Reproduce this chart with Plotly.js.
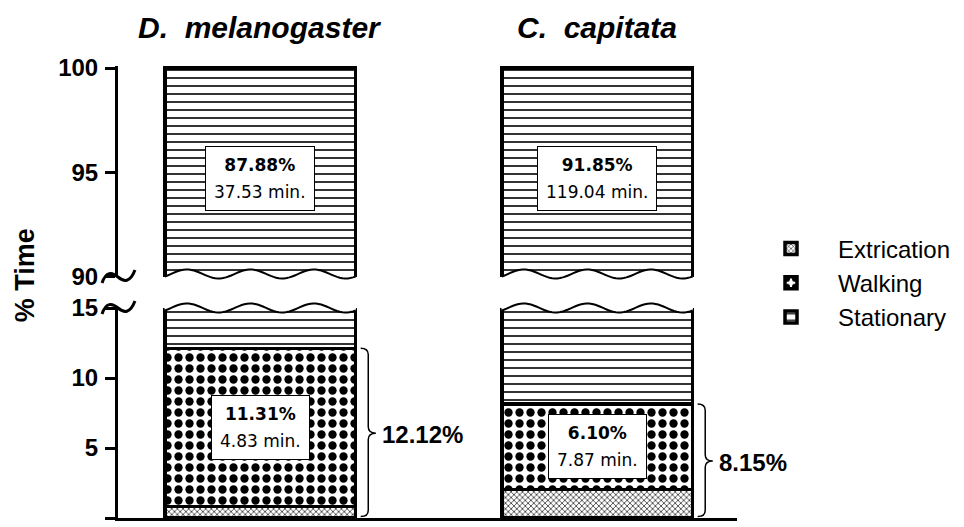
<!DOCTYPE html>
<html>
<head>
<meta charset="utf-8">
<script src="https://cdn.plot.ly/plotly-3.0.1.min.js"></script>
<style>html,body{margin:0;padding:0;background:#fff;}#chart{width:964px;height:527px;}</style>
</head>
<body>
<div id="chart"></div>
<script>
// ---- data ----
const species = ['D.\u00a0 melanogaster', 'C.\u00a0 capitata'];
const xpos = [0, 1];
const extrication = [0.81, 2.05];
const walking = [11.31, 6.10];
const stationary = [87.88, 91.85];
const walkMin = [4.83, 7.87];
const statMin = [37.53, 119.04];
const lowTicks = [0, 5, 10, 15];
const highTicks = [90, 95, 100];
const seriesNames = ['Extrication', 'Walking', 'Stationary'];

// ---- layout constants ----
const W = 964, H = 527;
const M = {l: 118, r: 226, t: 66, b: 9};
const plotH = H - M.t - M.b;
const lowDomain = [0, 0.4646];
const highDomain = [0.5332, 1];
const barW = 0.566;
const xRange = [-0.4222, 1.4148];

const patterns = [
  {shape: 'x', size: 4, solidity: 0.3, fgcolor: 'black', bgcolor: 'white', fillmode: 'replace'},
  {shape: '.', size: 11, solidity: 0.45, fgcolor: 'black', bgcolor: 'white', fillmode: 'replace'},
  {shape: '-', size: 8, solidity: 0.2, fgcolor: 'black', bgcolor: 'white', fillmode: 'replace'}
];
const seriesVals = [extrication, walking, stationary];

const traces = [];
['y', 'y2'].forEach((ax, k) => {
  seriesVals.forEach((vals, i) => {
    traces.push({
      type: 'bar', x: xpos, y: vals, name: seriesNames[i],
      width: barW, xaxis: 'x', yaxis: ax,
      showlegend: k === 0, legendgroup: seriesNames[i],
      marker: {color: 'white', pattern: patterns[i], line: {color: 'black', width: 3.5}},
      hoverinfo: 'skip'
    });
  });
});

// helpers: pixel -> paper
const px2x = px => (px - M.l) / (W - M.l - M.r);
const py2y = py => (H - M.b - py) / plotH;

const shapes = [];
const annotations = [];

// wavy break edges on bars
function wave(xc, yc, A, phase) {
  const pts = [];
  const n = 72;
  for (let j = 0; j <= n; j++) {
    const t = j / n;
    pts.push([xc - barW / 2 + t * barW, yc + A * Math.sin(2 * Math.PI * 3 * t + phase)]);
  }
  return pts;
}
const A = 4.5 / plotH;
xpos.forEach(xc => {
  // lower panel top
  const ycL = lowDomain[1];
  const wl = wave(xc, ycL, A, -0.6);
  let d = 'M' + wl.map(p => p[0] + ',' + p[1]).join('L');
  shapes.push({type: 'path', xref: 'x', yref: 'paper',
    path: d + 'L' + (xc + barW / 2 + 0.01) + ',' + (ycL + 0.04) + 'L' + (xc - barW / 2 - 0.01) + ',' + (ycL + 0.04) + 'Z',
    fillcolor: 'white', line: {width: 0}});
  shapes.push({type: 'path', xref: 'x', yref: 'paper', path: d,
    fillcolor: 'rgba(0,0,0,0)', line: {color: 'black', width: 2}});
  // upper panel bottom
  const ycU = highDomain[0] + 3 / plotH;
  const wu = wave(xc, ycU, A, -0.6);
  d = 'M' + wu.map(p => p[0] + ',' + p[1]).join('L');
  shapes.push({type: 'path', xref: 'x', yref: 'paper',
    path: d + 'L' + (xc + barW / 2 + 0.01) + ',' + (ycU - 0.04) + 'L' + (xc - barW / 2 - 0.01) + ',' + (ycU - 0.04) + 'Z',
    fillcolor: 'white', line: {width: 0}});
  shapes.push({type: 'path', xref: 'x', yref: 'paper', path: d,
    fillcolor: 'rgba(0,0,0,0)', line: {color: 'black', width: 2}});
});

// axis break tildes
function tilde(pyc) {
  const p = (a, b) => px2x(a) + ',' + py2y(b);
  return 'M' + p(102, pyc + 6) + 'C' + p(106, pyc - 6) + ' ' + p(112, pyc - 5) + ' ' + p(118, pyc) +
         'C' + p(124, pyc + 5) + ' ' + p(130, pyc + 6) + ' ' + p(135, pyc - 7);
}
[highDomain[0], lowDomain[1]].forEach(dy => {
  const pyc = H - M.b - dy * plotH;
  shapes.push({type: 'path', xref: 'paper', yref: 'paper', path: tilde(pyc),
    fillcolor: 'rgba(0,0,0,0)', line: {color: 'black', width: 3}});
});

// braces + totals
xpos.forEach((xc, i) => {
  const total = extrication[i] + walking[i];
  const x0 = xc + barW / 2 + 0.015, w = 0.045, xh = x0 + w / 2;
  const y0 = 0.1, y1 = total, ym = total / 2, r = 0.45;
  const path = `M${x0},${y1} Q${xh},${y1} ${xh},${y1 - r} L${xh},${ym + r} Q${xh},${ym} ${x0 + w},${ym} Q${xh},${ym} ${xh},${ym - r} L${xh},${y0 + r} Q${xh},${y0} ${x0},${y0}`;
  shapes.push({type: 'path', xref: 'x', yref: 'y', path: path,
    fillcolor: 'rgba(0,0,0,0)', line: {color: 'black', width: 1.5}});
  annotations.push({xref: 'x', yref: 'y', x: x0 + w + 0.012, y: ym - 0.1, xanchor: 'left', yanchor: 'middle',
    text: '<b>' + total.toFixed(2) + '%</b>', showarrow: false,
    font: {family: 'Liberation Sans, Arial', size: 24, color: 'black'}});
});

// value boxes
xpos.forEach((xc, i) => {
  annotations.push({xref: 'x', yref: 'y2', x: xc, y: 94.72, showarrow: false,
    text: '<span style="font-size:17px"><b>' + stationary[i].toFixed(2) + '%</b></span><br><span style="font-size:17px">' + statMin[i].toFixed(2) + ' min.</span>',
    font: {family: 'DejaVu Sans', size: 21, color: 'black'},
    bgcolor: 'white', bordercolor: 'black', borderwidth: 1, borderpad: 8});
  annotations.push({xref: 'x', yref: 'y', x: xc, y: extrication[i] + walking[i] / 2, showarrow: false,
    text: '<span style="font-size:17px"><b>' + walking[i].toFixed(2) + '%</b></span><br><span style="font-size:17px">' + walkMin[i].toFixed(2) + ' min.</span>',
    font: {family: 'DejaVu Sans', size: 21, color: 'black'},
    bgcolor: 'white', bordercolor: 'black', borderwidth: 1, borderpad: 8});
});

// species titles
xpos.forEach((xc, i) => {
  annotations.push({xref: 'x', yref: 'paper', x: xc, y: py2y(28), yanchor: 'middle', showarrow: false,
    text: species[i], font: {family: 'Liberation Sans, Arial', size: 30, style: 'italic', weight: 'bold', color: 'black'}});
});

// y title
annotations.push({xref: 'paper', yref: 'paper', x: px2x(25), y: py2y(275), xanchor: 'center', yanchor: 'middle',
  showarrow: false, textangle: -90,
  text: '<b>% Time</b>', font: {family: 'Liberation Sans, Arial', size: 27, color: 'black'}});

const yCommon = {
  ticks: 'outside', ticklen: 10, tickwidth: 3, tickcolor: 'black',
  showline: true, linewidth: 3, linecolor: 'black', showgrid: false, zeroline: false,
  tickfont: {family: 'Liberation Sans, Arial', size: 24, weight: 'bold', color: 'black'},
  ticklabelstandoff: 2, fixedrange: true, anchor: 'x'
};

const layout = {
  width: W, height: H, margin: M,
  paper_bgcolor: 'white', plot_bgcolor: 'white',
  barmode: 'stack', showlegend: true,
  xaxis: {range: xRange, showticklabels: false, ticks: '', showline: true, linewidth: 3, linecolor: 'black',
    showgrid: false, zeroline: false, fixedrange: true, anchor: 'y'},
  yaxis: Object.assign({}, yCommon, {domain: lowDomain, range: [0, 15], tickvals: lowTicks}),
  yaxis2: Object.assign({}, yCommon, {domain: highDomain, range: [90, 100.1], tickvals: highTicks}),
  legend: {x: px2x(744), y: py2y(283), xanchor: 'left', yanchor: 'middle', traceorder: 'normal',
    font: {family: 'Liberation Sans, Arial', size: 24, color: 'black'}, itemwidth: 84, tracegroupgap: 0,
    bgcolor: 'rgba(0,0,0,0)'},
  shapes: shapes,
  annotations: annotations
};

Plotly.newPlot('chart', traces, layout, {displayModeBar: false, staticPlot: true});
</script>
</body>
</html>
